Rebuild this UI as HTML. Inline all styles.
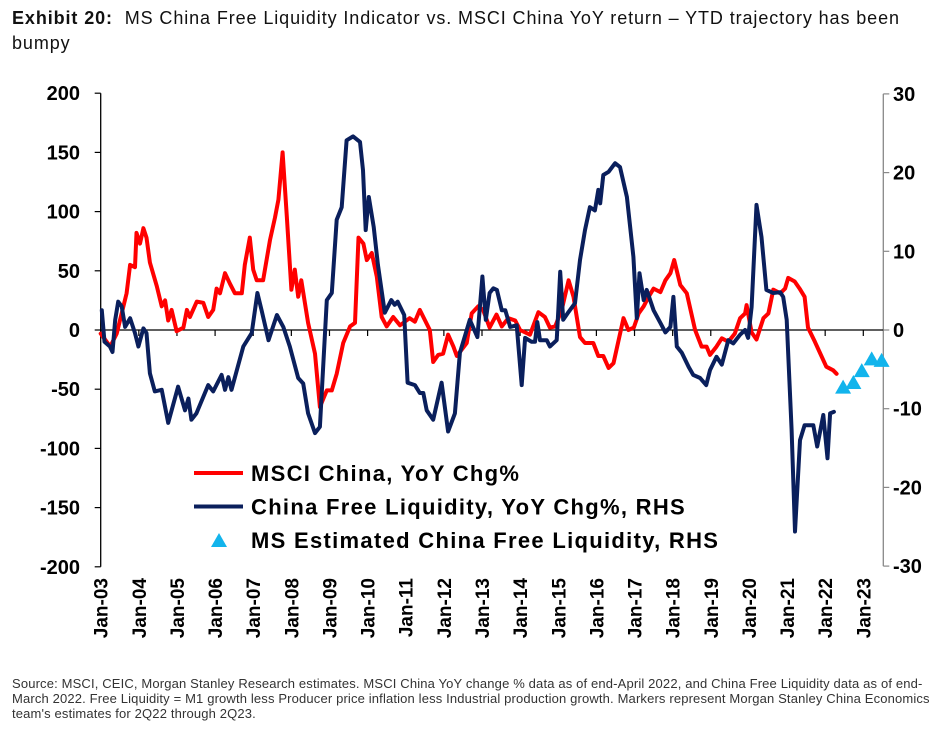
<!DOCTYPE html>
<html><head><meta charset="utf-8">
<style>
body{margin:0;background:#fff;width:949px;height:734px;overflow:hidden;font-family:"Liberation Sans",Arial,sans-serif;}
#title{position:absolute;left:12px;top:6px;font-size:18px;letter-spacing:0.9px;color:#111;line-height:25px;width:925px;}
#source{position:absolute;left:12px;top:676px;font-size:13px;letter-spacing:0.15px;color:#333;line-height:15px;width:925px;}
svg{position:absolute;left:0;top:0;}
</style></head><body>
<div id="title"><b>Exhibit 20:</b>&nbsp; MS China Free Liquidity Indicator vs. MSCI China YoY return – YTD trajectory has been bumpy</div>
<svg id="chart" width="949" height="734"></svg>
<div id="source">Source: MSCI, CEIC, Morgan Stanley Research estimates. MSCI China YoY change % data as of end-April 2022, and China Free Liquidity data as of end-March 2022. Free Liquidity = M1 growth less Producer price inflation less Industrial production growth. Markers represent Morgan Stanley China Economics team's estimates for 2Q22 through 2Q23.</div>
<script>
const leftTicks=[200,150,100,50,0,-50,-100,-150,-200];
const rightTicks=[30,20,10,0,-10,-20,-30];
const yearLabels=["Jan-03","Jan-04","Jan-05","Jan-06","Jan-07","Jan-08","Jan-09","Jan-10","Jan-11","Jan-12","Jan-13","Jan-14","Jan-15","Jan-16","Jan-17","Jan-18","Jan-19","Jan-20","Jan-21","Jan-22","Jan-23"];
const msciT=[2003.0,2003.25,2003.42,2003.68,2003.77,2003.9,2003.94,2004.03,2004.12,2004.2,2004.29,2004.47,2004.6,2004.69,2004.77,2004.86,2004.99,2005.17,2005.26,2005.34,2005.52,2005.69,2005.82,2005.95,2006.04,2006.13,2006.26,2006.39,2006.52,2006.7,2006.78,2006.91,2007.0,2007.09,2007.26,2007.44,2007.57,2007.66,2007.77,2007.88,2008.0,2008.09,2008.18,2008.26,2008.44,2008.62,2008.75,2008.93,2009.06,2009.19,2009.36,2009.54,2009.67,2009.76,2009.89,2009.98,2010.11,2010.24,2010.37,2010.5,2010.67,2010.85,2011.1,2011.24,2011.37,2011.63,2011.72,2011.85,2011.98,2012.11,2012.25,2012.34,2012.6,2012.73,2012.9,2013.03,2013.2,2013.38,2013.52,2013.69,2013.87,2014.0,2014.26,2014.48,2014.65,2014.78,2014.92,2015.09,2015.27,2015.4,2015.57,2015.7,2015.92,2016.05,2016.18,2016.32,2016.45,2016.58,2016.71,2016.84,2016.98,2017.11,2017.24,2017.37,2017.5,2017.68,2017.81,2017.94,2018.04,2018.2,2018.37,2018.59,2018.76,2018.89,2018.98,2019.15,2019.29,2019.46,2019.63,2019.77,2019.9,2019.94,2020.07,2020.2,2020.38,2020.51,2020.64,2020.82,2020.95,2021.03,2021.2,2021.33,2021.46,2021.55,2021.73,2021.86,2022.03,2022.21,2022.3];
const msciV=[-3,-14,-3,31,55,53,82,73,86,78,57,37,20,25,8,17,-1,2,17,11,24,23,11,17,35,31,48,39,31,31,55,78,51,42,42,76,95,110,150,96,34,51,28,42,6,-20,-65,-51,-51,-37,-11,3,6,78,73,59,65,45,11,3,11,4,10,7,17,0,-27,-21,-20,-4,-14,-22,-11,14,20,17,2,13,3,10,8,0,-4,15,11,2,3,17,42,28,-6,-11,-11,-22,-22,-32,-28,-9,10,0,2,14,20,28,35,32,42,48,59,38,31,0,-14,-14,-21,-14,-7,-10,-3,10,14,21,-2,-8,10,14,34,31,35,44,41,35,28,2,-10,-19,-31,-34,-37];
const flT=[2003.03,2003.1,2003.24,2003.31,2003.38,2003.46,2003.55,2003.64,2003.77,2003.9,2003.99,2004.12,2004.2,2004.29,2004.42,2004.6,2004.77,2005.03,2005.21,2005.3,2005.38,2005.51,2005.82,2005.95,2006.17,2006.26,2006.35,2006.43,2006.74,2006.96,2007.11,2007.22,2007.4,2007.62,2007.79,2007.96,2008.18,2008.31,2008.44,2008.62,2008.75,2008.93,2009.06,2009.19,2009.32,2009.45,2009.62,2009.8,2009.88,2009.95,2010.03,2010.16,2010.27,2010.45,2010.62,2010.71,2010.79,2010.96,2011.05,2011.24,2011.37,2011.46,2011.55,2011.72,2011.94,2012.11,2012.29,2012.42,2012.68,2012.88,2013.01,2013.1,2013.2,2013.3,2013.39,2013.52,2013.61,2013.74,2013.91,2014.04,2014.13,2014.3,2014.39,2014.45,2014.52,2014.7,2014.78,2014.96,2015.0,2015.05,2015.13,2015.27,2015.44,2015.57,2015.7,2015.83,2015.96,2016.05,2016.1,2016.18,2016.32,2016.49,2016.62,2016.8,2016.97,2017.06,2017.13,2017.24,2017.32,2017.5,2017.68,2017.81,2017.94,2018.02,2018.11,2018.24,2018.42,2018.54,2018.72,2018.88,2018.98,2019.15,2019.29,2019.46,2019.59,2019.77,2019.9,2019.98,2020.07,2020.2,2020.33,2020.46,2020.64,2020.82,2020.9,2020.99,2021.12,2021.21,2021.34,2021.46,2021.69,2021.79,2021.95,2022.06,2022.13,2022.23];
const flV=[2.5,-1.5,-2.1,-2.8,1.3,3.6,3.0,0.4,1.5,-0.4,-2.1,0.2,-0.4,-5.5,-7.8,-7.6,-11.8,-7.2,-10.2,-8.7,-11.4,-10.6,-7.0,-7.8,-5.7,-7.6,-6.0,-7.6,-2.1,-0.4,4.7,2.5,-1.3,1.9,0.4,-2.1,-6.1,-6.8,-10.6,-13.1,-12.3,3.8,4.7,14,15.6,24.1,24.6,23.9,20.3,12.7,16.9,13.1,8.3,2.2,3.8,3.2,3.6,1.9,-6.7,-7.0,-8.0,-8.0,-10.2,-11.4,-6.7,-12.9,-10.6,-2.9,1.3,-0.9,6.8,1.3,4.7,5.3,5.1,2.5,2.5,0.4,0.6,-7.0,-1.0,-1.5,-1.5,1.0,-1.3,-1.3,-2.1,-1.3,2.5,7.4,1.3,2.3,3.4,8.9,12.7,15.6,15.2,17.8,16.1,19.7,20.1,21.2,20.7,16.9,9.3,1.5,7.2,3.8,5.1,2.5,0.9,-0.3,0.4,4.2,-2.1,-2.9,-4.7,-5.7,-6.1,-7.0,-5.1,-3.4,-4.4,-1.3,-1.7,-0.6,0,-1.0,2.9,15.9,11.8,5.1,4.7,4.8,4.2,1.3,-12.7,-25.6,-14,-12.1,-12.1,-14.8,-10.8,-16.3,-10.6,-10.4];
const estT=[2022.47,2022.74,2022.96,2023.22,2023.48];
const estV=[-7.2,-6.6,-5.1,-3.6,-3.8];

const NS="http://www.w3.org/2000/svg";
const svg=document.getElementById('chart');
const X0=100.7,YW=38.13,XR=883.3;
const xs=t=>X0+(t-2003)*YW;
const yL=v=>330-v*1.184;
const yR=v=>330-v*7.87;
function mk(tag,attrs,parent){const e=document.createElementNS(NS,tag);for(const k in attrs)e.setAttribute(k,attrs[k]);(parent||svg).appendChild(e);return e;}

let a=mk('line',{x1:X0,y1:yL(200),x2:X0,y2:yL(-200),stroke:'#000','stroke-width':1.3});


a=mk('line',{x1:XR,y1:yR(30),x2:XR,y2:yR(-30),stroke:'#888','stroke-width':1.3});


a=mk('line',{x1:X0,y1:330,x2:XR,y2:330,stroke:'#000','stroke-width':1.3});



leftTicks.forEach(v=>{
  mk('line',{x1:X0-6,y1:yL(v),x2:X0,y2:yL(v),stroke:'#000','stroke-width':1.2});
  const t=mk('text',{x:80,y:yL(v)+7,'text-anchor':'end','font-size':20,'font-weight':'bold',fill:'#000'});
  t.textContent=v;
  
  
});
rightTicks.forEach(v=>{
  mk('line',{x1:XR,y1:yR(v),x2:XR+6,y2:yR(v),stroke:'#888','stroke-width':1.2});
  const t=mk('text',{x:893,y:yR(v)+7,'text-anchor':'start','font-size':20,'font-weight':'bold',fill:'#000'});
  t.textContent=v;
  
  
});
yearLabels.forEach((lab,i)=>{
  const x=xs(2003+i);
  mk('line',{x1:x,y1:330,x2:x,y2:336,stroke:'#000','stroke-width':1.2});
  const t=mk('text',{x:0,y:0,'text-anchor':'end','font-size':19,'font-weight':'bold',fill:'#000',transform:`translate(${x+7},578) rotate(-90)`});
  t.textContent=lab;
  
  
});

function line(T,V,yf,color,name){
  const d=T.map((t,i)=>(i?'L':'M')+xs(t).toFixed(1)+','+yf(V[i]).toFixed(1)).join('');
  const p=mk('path',{d:d,fill:'none',stroke:color,'stroke-width':4,'stroke-linejoin':'round','stroke-linecap':'round'});
  
  
}
line(msciT,msciV,yL,'#ff0000','msci-china-line');
line(flT,flV,yR,'#0a1f5c','free-liquidity-line');
estT.forEach((t,i)=>{
  const x=xs(t),y=yR(estV[i]);
  const p=mk('polygon',{points:`${x-8},${y+7} ${x+8},${y+7} ${x},${y-7}`,fill:'#12b4ec'});
  
  
});

const leg=[['MSCI China, YoY Chg%','#ff0000','line'],['China Free Liquidity, YoY Chg%, RHS','#0a1f5c','line'],['MS Estimated China Free Liquidity, RHS','#12b4ec','tri']];
leg.forEach((l,i)=>{
  const y=473+i*33.5;
  const g=mk('g',{});
  
  
  if(l[2]=='line') mk('line',{x1:194,y1:y,x2:243,y2:y,stroke:l[1],'stroke-width':4},g);
  else mk('polygon',{points:`211,${y+7} 227,${y+7} 219,${y-7}`,fill:l[1]},g);
  const t=mk('text',{x:251,y:y+8,'font-size':22,'font-weight':'bold','letter-spacing':1.3,fill:'#000'},g);
  t.textContent=l[0];
});
</script>
</body></html>
